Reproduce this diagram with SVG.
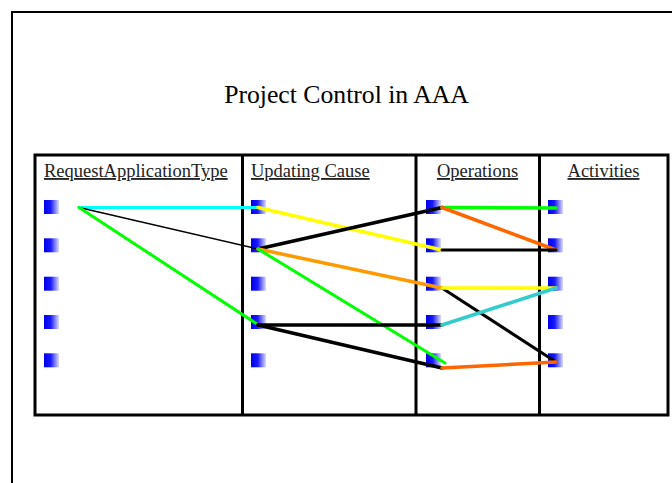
<svg xmlns="http://www.w3.org/2000/svg" width="672" height="483" viewBox="0 0 672 483">
<style>
.title{font-family:"Liberation Serif","Times New Roman",serif;font-size:25.7px;fill:#000}
.hdr{font-family:"Liberation Serif","Times New Roman",serif;font-size:18.5px;fill:#222;text-decoration:underline}
.frame{fill:none;stroke:#000;stroke-width:2}
.tbl{fill:none;stroke:#000;stroke-width:3}
.sq{fill:url(#g)}
.c{fill:none;stroke-linecap:round}
.w3{stroke-width:3}
.w35{stroke-width:3.5}
.thin{stroke-width:1.5}
</style>
<defs>
<linearGradient id="g" x1="0" y1="0" x2="1" y2="0">
<stop offset="0" stop-color="#0000e8"/>
<stop offset="0.45" stop-color="#1a1aff"/>
<stop offset="1" stop-color="#dcdcff"/>
</linearGradient>
</defs>
<rect width="672" height="483" fill="#fff"/>
<rect class="frame" x="12" y="12" width="680" height="500"/>
<text class="title" x="346.5" y="103.3" text-anchor="middle">Project Control in AAA</text>
<g id="table">
<rect class="tbl" x="35" y="155" width="633" height="260"/>
<line class="tbl" x1="242.5" y1="155" x2="242.5" y2="415"/>
<line class="tbl" x1="416" y1="155" x2="416" y2="415"/>
<line class="tbl" x1="539.5" y1="155" x2="539.5" y2="415"/>
</g>
<g id="col-request">
<text class="hdr" x="44" y="177">RequestApplicationType</text>
<rect class="sq" x="44" y="200" width="15" height="14"/>
<rect class="sq" x="44" y="238.3" width="15" height="14"/>
<rect class="sq" x="44" y="276.7" width="15" height="14"/>
<rect class="sq" x="44" y="315" width="15" height="14"/>
<rect class="sq" x="44" y="353.3" width="15" height="14"/>
</g>
<g id="col-updating">
<text class="hdr" x="251" y="177">Updating Cause</text>
<rect class="sq" x="251" y="200" width="15" height="14"/>
<rect class="sq" x="251" y="238.3" width="15" height="14"/>
<rect class="sq" x="251" y="276.7" width="15" height="14"/>
<rect class="sq" x="251" y="315" width="15" height="14"/>
<rect class="sq" x="251" y="353.3" width="15" height="14"/>
</g>
<g id="col-operations">
<text class="hdr" x="477.5" y="177" text-anchor="middle">Operations</text>
<rect class="sq" x="426" y="200" width="15" height="14"/>
<rect class="sq" x="426" y="238.3" width="15" height="14"/>
<rect class="sq" x="426" y="276.7" width="15" height="14"/>
<rect class="sq" x="426" y="315" width="15" height="14"/>
<rect class="sq" x="426" y="353.3" width="15" height="14"/>
</g>
<g id="col-activities">
<text class="hdr" x="603.5" y="177" text-anchor="middle">Activities</text>
<rect class="sq" x="548" y="200" width="15" height="14"/>
<rect class="sq" x="548" y="238.3" width="15" height="14"/>
<rect class="sq" x="548" y="276.7" width="15" height="14"/>
<rect class="sq" x="548" y="315" width="15" height="14"/>
<rect class="sq" x="548" y="353.3" width="15" height="14"/>
</g>
<g id="connectors">
<line class="c w3" x1="79" y1="207.5" x2="258" y2="207.5" stroke="#00ffff"/>
<line class="c thin" x1="79" y1="207.5" x2="258" y2="249" stroke="#000"/>
<line class="c w3" x1="79" y1="207.5" x2="257" y2="324" stroke="#00ff00"/>
<line class="c w35" x1="258" y1="207.5" x2="442" y2="250" stroke="#ffff00"/>
<line class="c w35" x1="258" y1="249" x2="442" y2="207.5" stroke="#000"/>
<line class="c w35" x1="258" y1="249" x2="442" y2="288" stroke="#ff9900"/>
<line class="c w3" x1="258" y1="249" x2="445" y2="363" stroke="#00ff00"/>
<line class="c w35" x1="258" y1="325" x2="442" y2="325" stroke="#000"/>
<line class="c w35" x1="258" y1="325" x2="442" y2="368" stroke="#000"/>
<line class="c w35" x1="442" y1="207.5" x2="556" y2="208" stroke="#00ff00"/>
<line class="c w35" x1="442" y1="207.5" x2="556" y2="250" stroke="#ff6600"/>
<line class="c w3" x1="442" y1="250" x2="556" y2="250" stroke="#000"/>
<line class="c w3" x1="442" y1="288" x2="556" y2="362" stroke="#000"/>
<line class="c w35" x1="442" y1="288" x2="556" y2="288" stroke="#ffff00"/>
<line class="c w35" x1="442" y1="325" x2="556" y2="288" stroke="#33cccc"/>
<line class="c w35" x1="442" y1="368" x2="556" y2="362" stroke="#ff6600"/>
</g>
</svg>
